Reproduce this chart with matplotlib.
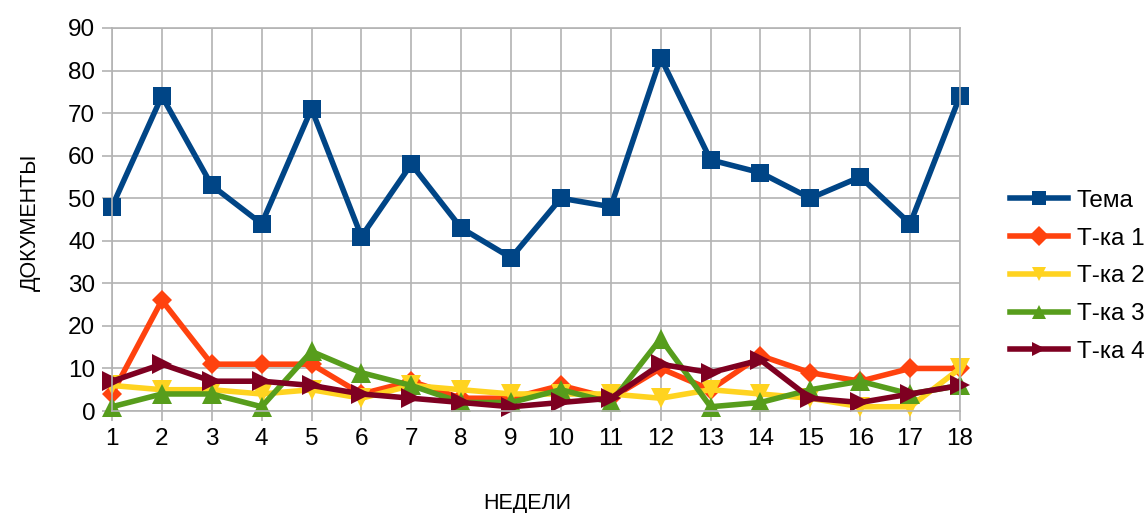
import matplotlib
matplotlib.use("Agg")
import matplotlib.pyplot as plt

weeks = list(range(1, 19))
tema = [48, 74, 53, 44, 71, 41, 58, 43, 36, 50, 48, 83, 59, 56, 50, 55, 44, 74]
tka1 = [4, 26, 11, 11, 11, 4, 7, 3, 3, 6, 3, 10, 5, 13, 9, 7, 10, 10]
tka2 = [6, 5, 5, 4, 5, 3, 6, 5, 4, 4, 4, 3, 5, 4, 3, 1, 1, 10]
tka3 = [1, 4, 4, 1, 14, 9, 6, 2, 2, 5, 2, 17, 1, 2, 5, 7, 4, 6]
tka4 = [7, 11, 7, 7, 6, 4, 3, 2, 1, 2, 3, 11, 9, 12, 3, 2, 4, 6]
names = ["Тема", "Т-ка 1", "Т-ка 2", "Т-ка 3", "Т-ка 4"]
colors = ["#004586", "#ff420e", "#ffd320", "#579d1c", "#7e0021"]
markers = ["s", "D", "v", "^", ">"]
msizes = [12.5, 10.5, 14, 14, 14]

plt.rcParams['font.family'] = ['Liberation Sans', 'DejaVu Sans']

fig = plt.figure(figsize=(11.46, 5.13), dpi=100)
ax = fig.add_axes([112/1146, 1 - 411/513, (960-112)/1146, (411-28)/513])

series = [tema, tka1, tka2, tka3, tka4]
for vals, name, c, m, ms in zip(series, names, colors, markers, msizes):
    ax.plot(weeks, vals, color=c, lw=4.0, marker=m, markersize=ms,
            markeredgewidth=0, label=name, solid_joinstyle='miter', clip_on=False)

ax.set_xlim(1, 18)
ax.set_ylim(0, 90)
ax.set_xticks(weeks)
ax.set_yticks(range(0, 91, 10))
ax.grid(True, color="#b3b3b3", lw=1.2)
ax.set_axisbelow(True)
for s in ax.spines.values():
    s.set_color("#b3b3b3")
    s.set_linewidth(1.2)
ax.tick_params(axis='both', colors="#b3b3b3", labelcolor="black", length=7,
               width=1.2, labelsize=17.5, pad=5)

fig.text(527/1146, 1 - 503/513, "НЕДЕЛИ", ha="center", va="center", fontsize=15.5)
fig.text(30/1146, 1 - 222/513, "ДОКУМЕНТЫ", ha="center", va="center",
         rotation=90, fontsize=15.5)

leg = fig.legend(loc="upper left", bbox_to_anchor=(1000/1146, 1 - 180/513),
                 frameon=False, fontsize=17.5, handlelength=2.4,
                 labelspacing=0.65, handletextpad=0.35, borderaxespad=0)
for h in leg.legend_handles:
    h.set_markersize(10)

fig.savefig("out.png", dpi=100)
